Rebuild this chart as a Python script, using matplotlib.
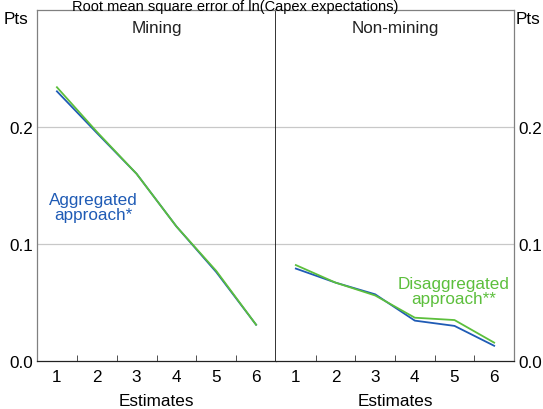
import matplotlib
matplotlib.use("Agg")
import matplotlib.pyplot as plt
import numpy as np

plt.rcParams['font.family'] = ['Liberation Sans', 'DejaVu Sans']

estimates = [1, 2, 3, 4, 5, 6]
mining_agg = [0.2305, 0.195, 0.160, 0.115, 0.076, 0.031]
mining_disagg = [0.234, 0.196, 0.160, 0.115, 0.077, 0.031]
nonmining_agg = [0.079, 0.067, 0.057, 0.0345, 0.030, 0.013]
nonmining_disagg = [0.082, 0.067, 0.056, 0.037, 0.035, 0.0157]
yticks = [0.0, 0.1, 0.2]
ytick_labels = ["0.0", "0.1", "0.2"]

blue = "#1f5bb5"
green = "#5cbf3c"
FS = 12.3

fig = plt.figure(figsize=(5.43, 4.10), dpi=100)
W, H = 543, 410
left, right, top, bottom = 37, 514, 11, 362
mid = 276
axL = fig.add_axes([left / W, 1 - bottom / H, (mid - left) / W, (bottom - top) / H])
axR = fig.add_axes([mid / W, 1 - bottom / H, (right - mid) / W, (bottom - top) / H])

x = np.arange(len(estimates)) + 0.5
for ax, agg, dis, name in [(axL, mining_agg, mining_disagg, "Mining"),
                           (axR, nonmining_agg, nonmining_disagg, "Non-mining")]:
    ax.set_xlim(0, 6)
    ax.set_ylim(0, 0.3)
    for yv in [0.1, 0.2]:
        ax.axhline(yv, color="#c8c8c8", lw=0.9, zorder=1)
    ax.plot(x, agg, color=blue, lw=1.3, zorder=3)
    ax.plot(x, dis, color=green, lw=1.3, zorder=4)
    ax.set_xticks(x)
    ax.set_xticklabels([str(e) for e in estimates], fontsize=FS)
    ax.set_xticks(np.arange(1, 6), minor=True)
    ax.tick_params(axis='x', which='major', length=0, pad=6)
    ax.tick_params(axis='x', which='minor', direction='in', length=4, color='#333333')
    ax.set_xlabel("Estimates", fontsize=FS, labelpad=6)
    ax.set_yticks(yticks)
    for s in ax.spines.values():
        s.set_color("#808080")
        s.set_linewidth(0.9)
    ax.spines['bottom'].set_color("#222222")
    ax.text(0.5, 0.95, name, transform=ax.transAxes, ha='center', va='center', fontsize=FS, color="#222222")

axL.set_yticklabels(ytick_labels, fontsize=FS)
axL.tick_params(axis='y', length=0, pad=3)
axR.yaxis.tick_right()
axR.set_yticklabels(ytick_labels, fontsize=FS)
axR.tick_params(axis='y', length=0, pad=3)
axL.spines['right'].set_color("#111111")
axL.spines['right'].set_linewidth(1.2)
axR.spines['left'].set_visible(False)

fig.text(4 / W, 1 - 19 / H, "Pts", ha='left', va='center', fontsize=FS)
fig.text(516 / W, 1 - 19 / H, "Pts", ha='left', va='center', fontsize=FS)
fig.text(235 / W, 1 - 0.5 / H, "Root mean square error of ln(Capex expectations)",
         ha='center', va='top', fontsize=10.5)

axL.text(0.235, 0.44, "Aggregated\napproach*", transform=axL.transAxes, ha='center', va='center',
         fontsize=FS, color=blue, linespacing=1.0)
axR.text(0.745, 0.20, "Disaggregated\napproach**", transform=axR.transAxes, ha='center', va='center',
         fontsize=FS, color=green, linespacing=1.0)

fig.savefig("out.png", dpi=100)
